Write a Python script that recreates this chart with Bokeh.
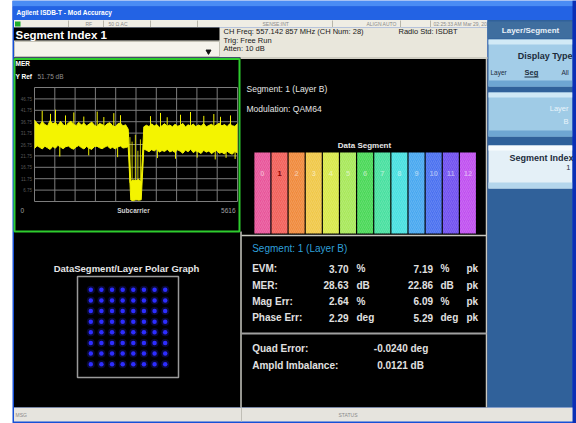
import numpy as np
from bokeh.plotting import figure
from bokeh.models import Range1d
from bokeh.core.properties import value
from bokeh.embed import file_html
from bokeh.resources import INLINE

# ---------------- data ----------------
window_title = "Agilent ISDB-T - Mod Accuracy"
status_items = ["RF", "50 \u03a9  AC", "SENSE:INT", "ALIGN AUTO", "02:25:33 AM Mar 29, 2012"]
header_title = "Segment Index  1"
header_info = ["CH Freq: 557.142 857 MHz (CH Num: 28)", "Trig: Free Run", "Atten: 10 dB"]
radio_std = "Radio Std: ISDBT"

# MER vs subcarrier trace (envelope of the yellow band, dB)
mer_yref = 51.75
mer_div = 5.0
mer_sc_max = 5616
mer_sc = list(range(0, 5617, 72))
mer_hi = [37.5, 36.0, 35.2, 36.8, 35.5, 34.9, 37.2, 35.8, 36.4, 35.1,
          36.9, 35.4, 34.8, 36.2, 37.0, 35.6, 35.0, 36.5, 35.3, 36.1,
          34.9, 35.7, 36.6, 35.2, 34.6, 36.0, 35.5, 34.8, 35.9, 36.3,
          35.0, 34.5, 35.8, 36.2, 34.9, 35.4,
          33.5,
          10.5, 11.2, 10.8, 11.5, 10.2,
          34.5,
          35.2, 34.6, 35.8, 34.9, 35.5, 34.3, 35.0, 35.9, 34.7, 35.3,
          34.5, 35.6, 34.8, 35.1, 36.0, 34.4, 35.4, 34.9, 35.7, 34.6,
          35.3, 34.8, 35.9, 34.5, 35.1, 35.6, 34.7, 35.4, 36.1, 34.9,
          35.5, 34.6, 35.8, 35.0, 34.7, 35.9]
mer_lo = [25.0, 26.2, 25.5, 24.8, 26.0, 25.3, 24.6, 25.9, 25.1, 26.4,
          25.6, 24.9, 25.8, 26.1, 25.2, 24.7, 25.7, 26.3, 25.4, 24.8,
          25.9, 25.1, 24.6, 25.8, 26.0, 25.3, 24.9, 25.6, 26.2, 25.0,
          25.5, 24.8, 25.7, 26.1, 25.2, 25.4,
          25.8,
          2.4, 2.1, 2.6, 2.3, 2.5,
          24.8,
          24.2, 23.6, 24.5, 23.9, 24.8, 23.4, 24.1, 23.7, 24.6, 23.5,
          24.0, 23.3, 24.4, 23.8, 22.9, 24.3, 23.6, 24.7, 23.2, 24.0,
          23.5, 22.8, 24.2, 23.4, 23.9, 22.7, 23.6, 24.1, 22.9, 23.3,
          22.6, 23.8, 23.0, 22.5, 23.7, 23.1]
spike_up_sc = [213, 443, 581, 858, 1088, 1364, 1734, 1918, 2194, 2379,
               3209, 3486, 3671, 4039, 4316, 4684, 4961, 5146, 5422]
spike_up_top = [41.5, 40.2, 42.0, 39.5, 40.8, 39.0, 41.2, 38.8, 40.5, 39.6,
                39.2, 40.6, 38.7, 39.8, 41.0, 39.3, 40.1, 38.9, 39.5]
spike_dn_sc = [700, 1500, 2300, 3400, 3900, 4500, 5000, 5300, 5550]
spike_dn_bot = [21.5, 22.0, 21.2, 20.8, 20.5, 21.0, 20.2, 20.9, 20.4]
dip_sc = [2640, 2700, 2790, 2860, 2930]
dip_top = [30.0, 28.0, 31.0, 24.0, 29.0]

# data segments
segments = list(range(13))
segment_fill = [1] * 13
segment_colors = ["#e8559a", "#f2605a", "#f08a3c", "#f0c848", "#d8e84a", "#a8e85a",
                  "#4ad858", "#48e0a0", "#48e0e0", "#48a8f0", "#4a70f0", "#7050f0", "#c050f0"]
selected_segment = 1

# 64QAM constellation levels
iq_levels = [-7, -5, -3, -1, 1, 3, 5, 7]

# numeric results
seg_title = "Segment: 1 (Layer B)"
modulation = "Modulation: QAM64"
result_names = ["EVM:", "MER:", "Mag Err:", "Phase Err:"]
rms_vals = ["3.70", "28.63", "2.64", "2.29"]
units = ["%", "dB", "%", "deg"]
pk_vals = ["7.19", "22.86", "6.09", "5.29"]
extra_names = ["Quad Error:", "Ampld Imbalance:"]
extra_vals = ["-0.0240 deg", "0.0121 dB"]

FONT = "Liberation Sans"

# ---------------- figure (reference pixel layout) ----------------
FX0, FX1 = 0, 576
FY_BOT, FY_TOP = 423, 0

p = figure(width=576, height=423, x_range=Range1d(FX0, FX1), y_range=Range1d(FY_BOT, FY_TOP),
           x_axis_type=None, y_axis_type=None, toolbar_location=None, min_border=0,
           output_backend="svg", background_fill_color="white", border_fill_color="white")
p.outline_line_color = None
p.grid.visible = False


def xr(d0, d1, p0, p1):
    k = (d1 - d0) / (p1 - p0)
    return Range1d(start=d0 + (FX0 - p0) * k, end=d0 + (FX1 - p0) * k)


def yr(d0, d1, p0, p1):
    k = (d1 - d0) / (p1 - p0)
    return Range1d(start=d0 + (FY_BOT - p0) * k, end=d0 + (FY_TOP - p0) * k)


p.extra_x_ranges = {"mer": xr(0, mer_sc_max, 34, 237),
                    "seg": xr(-0.5, 12.5, 253.3, 476),
                    "iq": xr(-9.5, 9.5, 77, 178)}
p.extra_y_ranges = {"mer": yr(mer_yref, mer_yref - 10 * mer_div, 87, 201),
                    "seg": yr(0, 1, 233, 152),
                    "iq": yr(-9.5, 9.5, 377, 276)}


def box(l, r, t, b, color, **kw):
    p.quad(left=[l], right=[r], top=[t], bottom=[b], fill_color=color, line_color=None, **kw)


def txt(xs, ys, texts, size, color, align="left", bold=False, **kw):
    p.text(x=xs, y=ys, text=texts, text_font=value(FONT), text_font_size=f"{size}px",
           text_color=color, text_align=align, text_baseline="middle",
           text_font_style="bold" if bold else "normal", **kw)


# window frame
box(12, 576, 0, 423, "#1650d6")
box(12, 576, 0, 6, "#4a8cf4")
box(12, 576, 6, 19.5, "#2363e4")
txt([16], [11.5], [window_title], 6.5, "white", bold=True)

# status row
box(13.5, 487, 19.5, 27, "#efede4")
box(14.5, 20, 21, 26, "#1fae2a")
for sx in [68, 103, 150, 197, 332, 400, 430]:
    p.segment(x0=[sx], y0=[20], x1=[sx], y1=[27], line_color="#b8b6aa", line_width=1)
txt([85, 108, 262, 366, 433], [23.5] * 5, status_items, 5, "#8a8a8a")

# header
box(13.5, 487, 27, 57, "#e9e7dc")
box(13.5, 219, 27, 40, "#000000")
p.quad(left=[14], right=[219], top=[41], bottom=[56], fill_color="#f5f3ec", line_color="#c4c2b6")
p.scatter(x=[208], y=[51], marker="inverted_triangle", size=5, color="#111111")
txt([15], [34], [header_title], 11.5, "white", bold=True)
txt([223, 223, 223], [31, 39.5, 48.3], header_info, 7.5, "#1a1a1a")
txt([398], [31], [radio_std], 7.5, "#1a1a1a")

# panels background
box(13.5, 487, 57, 407, "#000000")

# softkey column
box(487, 572, 19.5, 407, "#30619a")
box(487, 572, 21, 38, "#3f6e9f")
txt([530], [29.5], ["Layer/Segment"], 8, "#e8f0f8", align="center", bold=True)
# key 1
box(488, 572, 39, 86, "#a3cde8")
box(488, 572, 39, 44, "#d2eaf6")
box(488, 572, 80, 86, "#6ea6d2")
txt([572], [55.5], ["Display Type"], 9, "#1c2c3c", align="right", bold=True)
txt([490], [71.5], ["Layer"], 6.5, "#1c2c3c")
txt([524], [71.5], ["Seg"], 7.5, "#1c2c3c", bold=True)
p.segment(x0=[524], y0=[76.5], x1=[538], y1=[76.5], line_color="#1c2c3c", line_width=1)
txt([561], [71.5], ["All"], 6.5, "#1c2c3c")
# key 2 (disabled)
box(488, 572, 92, 136, "#9fcbe6")
box(488, 572, 92, 97, "#cfe8f5")
box(488, 572, 130, 136, "#6ea6d2")
txt([568, 568], [108, 121], ["Layer", "B"], 7.5, "#eaf5fb", align="right")
# key 3
box(488, 572, 145, 188, "#e4f0f7")
box(488, 572, 145, 150, "#f8fbfd")
box(488, 572, 182, 188, "#b4d6ec")
txt([573], [157], ["Segment Index"], 9, "#1c2c3c", align="right", bold=True)
txt([570], [167], ["1"], 7.5, "#1c2c3c", align="right")

# right border and status bar
box(572, 576, 0, 423, "#0a2fb5")
box(13.5, 572, 407, 421, "#e6e4de")
p.segment(x0=[241], y0=[407], x1=[241], y1=[421], line_color="#c0beb6", line_width=1)
txt([15, 338], [414, 414], ["MSG", "STATUS"], 5, "#8a8a8a")

# panel borders
p.segment(x0=[486, 240.5, 241], y0=[57, 231, 235], x1=[486, 240.5, 486], y1=[407, 407, 235],
          line_color="#c8c8c0", line_width=1.5)
p.segment(x0=[240], y0=[57.5], x1=[487], y1=[57.5], line_color="#cfcdc2", line_width=2)

# ---------------- MER panel ----------------
gx = [mer_sc_max * k / 10 for k in range(11)]
gy = [mer_yref - mer_div * k for k in range(11)]
p.segment(x0=gx, y0=[gy[-1]] * 11, x1=gx, y1=[gy[0]] * 11, line_color="#7c7c7c", line_width=1,
          x_range_name="mer", y_range_name="mer")
p.segment(x0=[0] * 11, y0=gy, x1=[mer_sc_max] * 11, y1=gy, line_color="#7c7c7c", line_width=1,
          x_range_name="mer", y_range_name="mer")
txt([-70] * 9, gy[1:10], [f"{v:.2f}" for v in gy[1:10]], 4.5, "#5a5a5a", align="right",
    x_range_name="mer", y_range_name="mer")

yel = "#f4f400"
p.varea(x=mer_sc, y1=mer_lo, y2=mer_hi, fill_color=yel, x_range_name="mer", y_range_name="mer")
p.line(x=mer_sc, y=mer_hi, line_color=yel, line_width=1, x_range_name="mer", y_range_name="mer")
p.line(x=mer_sc, y=mer_lo, line_color=yel, line_width=1, x_range_name="mer", y_range_name="mer")
p.segment(x0=spike_up_sc, y0=[33] * len(spike_up_sc), x1=spike_up_sc, y1=spike_up_top,
          line_color=yel, line_width=1, x_range_name="mer", y_range_name="mer")
p.segment(x0=spike_dn_sc, y0=[26] * len(spike_dn_sc), x1=spike_dn_sc, y1=spike_dn_bot,
          line_color=yel, line_width=1, x_range_name="mer", y_range_name="mer")
p.segment(x0=dip_sc, y0=[10] * len(dip_sc), x1=dip_sc, y1=dip_top,
          line_color=yel, line_width=1, line_alpha=0.8, x_range_name="mer", y_range_name="mer")

p.quad(left=[14], right=[239], top=[58.5], bottom=[231], fill_color=None,
       line_color="#2ecc2e", line_width=2)
txt([15], [62.5], ["MER"], 6.5, "white", bold=True)
txt([15], [75.5], ["Y Ref"], 6.5, "white", bold=True)
txt([37], [75.5], [f"{mer_yref:.2f} dB"], 6.5, "#909090")
txt([20], [210], ["0"], 6.5, "#a0a0a0")
txt([133], [210], ["Subcarrier"], 6.5, "#d0d0d0", align="center", bold=True)
txt([235], [210], [str(mer_sc_max)], 6.5, "#a0a0a0", align="right")

# ---------------- segment panel ----------------
txt([246, 246], [88, 108.3], [seg_title, modulation], 8.5, "#e6e6e6")
txt([364], [144.5], ["Data Segment"], 8, "#e6e6e6", align="center", bold=True)
p.vbar(x=segments, top=segment_fill, bottom=0, width=0.93, fill_color=segment_colors,
       line_color=None, hatch_pattern="/", hatch_color="white", hatch_alpha=0.15,
       hatch_scale=4, hatch_weight=1, x_range_name="seg", y_range_name="seg")
lab_colors = ["#8b0000" if s == selected_segment else "#ffffff" for s in segments]
lab_alpha = [1.0 if s == selected_segment else 0.45 for s in segments]
p.text(x=segments, y=[0.74] * 13, text=[str(s) for s in segments], text_font=value(FONT),
       text_font_size="7.5px", text_color=lab_colors, text_alpha=lab_alpha, text_align="center",
       text_baseline="middle", text_font_style="bold", x_range_name="seg", y_range_name="seg")

# ---------------- polar graph ----------------
txt([126], [267.5], ["DataSegment/Layer Polar Graph"], 9.5, "#e6e6e6", align="center", bold=True)
gi, gq = np.meshgrid(iq_levels, iq_levels)
p.quad(left=[-9.5], right=[9.5], bottom=[-9.5], top=[9.5], fill_color=None, line_color="#9a9a9a",
       line_width=1.5, x_range_name="iq", y_range_name="iq")
p.scatter(x=gi.ravel(), y=gq.ravel(), size=8, color="#1a1aa0", alpha=0.35, line_color=None,
          x_range_name="iq", y_range_name="iq")
p.scatter(x=gi.ravel(), y=gq.ravel(), size=4.5, color="#2d2dff", line_color=None,
          x_range_name="iq", y_range_name="iq")

# ---------------- results panel ----------------
txt([251.7], [248.3], [seg_title], 10, "#2e9fd8")
ry = [268.3, 284.5, 300.7, 317.3]
txt([251.7] * 4, ry, result_names, 10, "#e0e0e0", bold=True)
txt([348] * 4, ry, rms_vals, 10, "#e0e0e0", align="right", bold=True)
txt([356] * 4, ry, units, 10, "#e0e0e0", bold=True)
txt([432.5] * 4, ry, pk_vals, 10, "#e0e0e0", align="right", bold=True)
txt([440] * 4, ry, units, 10, "#e0e0e0", bold=True)
txt([466] * 4, ry, ["pk"] * 4, 10, "#e0e0e0", bold=True)
p.segment(x0=[241], y0=[333], x1=[486], y1=[333], line_color="#a0a0a0", line_width=2)
txt([251.7, 251.7], [348.3, 365], extra_names, 10, "#e0e0e0", bold=True)
txt([373.3, 376.7], [348.3, 365], extra_vals, 10, "#e0e0e0", bold=True)

open("out.html", "w").write(file_html(p, INLINE))
